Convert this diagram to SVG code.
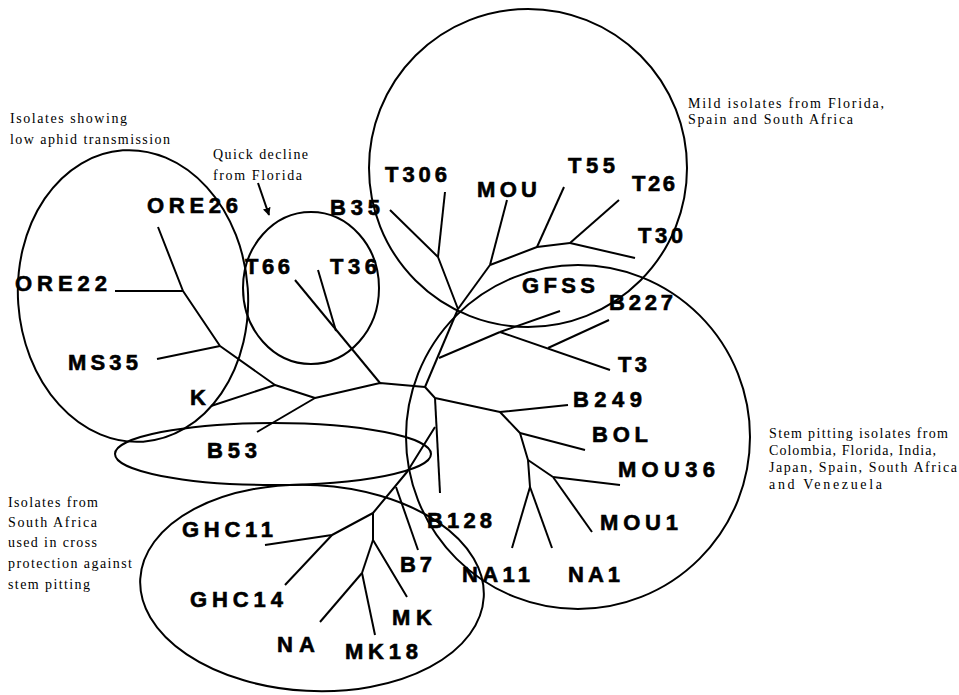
<svg xmlns="http://www.w3.org/2000/svg" width="959" height="695" viewBox="0 0 959 695">
<style>
.lbl{font-family:"Liberation Sans",Arial,sans-serif;font-weight:bold;font-size:22px;fill:#000;stroke:#000;stroke-width:0.6;}
.ann{font-family:"Liberation Serif","Times New Roman",serif;font-size:14px;fill:#000;}
.edge{stroke:#000;stroke-width:2;fill:none;stroke-linejoin:round;stroke-linecap:butt;}
.grp{stroke:#000;stroke-width:2;fill:none;}
</style>
<defs>
<pattern id="stipple" width="7" height="7" patternUnits="userSpaceOnUse">
<rect width="7" height="7" fill="#f8f8f8"/>
<circle cx="1.5" cy="2" r="0.6" fill="#a8a8a8"/>
<circle cx="5" cy="5.5" r="0.5" fill="#bcbcbc"/>
</pattern>
<marker id="arrow" viewBox="0 0 10 10" refX="9" refY="5" markerWidth="8" markerHeight="8" orient="auto" markerUnits="userSpaceOnUse">
<path d="M0,0 L10,5 L0,10 z" fill="#000"/>
</marker>
</defs>
<rect width="959" height="695" fill="#fff"/>

<g id="groups">
<ellipse id="grp-aphid" class="grp" cx="133" cy="296" rx="115" ry="146" transform="rotate(-4 133 296)" fill="url(#stipple)"/>
<ellipse id="grp-quick" class="grp" cx="311" cy="288" rx="68" ry="76"/>
<circle id="grp-mild" class="grp" cx="528" cy="168" r="159"/>
<circle id="grp-stem" class="grp" cx="578" cy="437" r="172"/>
<ellipse id="grp-b53" class="grp" cx="273" cy="454" rx="158" ry="31"/>
<ellipse id="grp-cross" class="grp" cx="312" cy="588" rx="172" ry="103" transform="rotate(3 312 588)"/>
</g>

<g id="connectors">
<polyline class="edge" points="158,227 183,291 220,346 275,385 315,398 380,383 425,387 435,398 500,412 568,405"/>
<line class="edge" x1="115" y1="291" x2="183" y2="291"/>
<line class="edge" x1="157" y1="359" x2="220" y2="346"/>
<line class="edge" x1="211" y1="406" x2="275" y2="385"/>
<line class="edge" x1="315" y1="398" x2="257" y2="432"/>
<line class="edge" x1="295" y1="280" x2="380" y2="383"/>
<line class="edge" x1="318" y1="270" x2="336" y2="331"/>
<line class="edge" x1="425" y1="387" x2="458" y2="309"/>
<line class="edge" x1="439" y1="358" x2="500" y2="332"/>
<line class="edge" x1="500" y1="332" x2="560" y2="311"/>
<line class="edge" x1="500" y1="332" x2="610" y2="370"/>
<line class="edge" x1="548" y1="348" x2="609" y2="320"/>
<polyline class="edge" points="458,309 438,257 390,210"/>
<line class="edge" x1="438" y1="257" x2="445" y2="192"/>
<line class="edge" x1="458" y1="309" x2="490" y2="265"/>
<line class="edge" x1="490" y1="265" x2="507" y2="200"/>
<polyline class="edge" points="490,265 537,247 570,243"/>
<line class="edge" x1="537" y1="247" x2="564" y2="187"/>
<line class="edge" x1="570" y1="243" x2="619" y2="200"/>
<line class="edge" x1="570" y1="243" x2="635" y2="258"/>
<polyline class="edge" points="500,412 520,433 528,460 530,487"/>
<line class="edge" x1="520" y1="433" x2="585" y2="450"/>
<line class="edge" x1="528" y1="460" x2="553" y2="477"/>
<line class="edge" x1="553" y1="477" x2="620" y2="485"/>
<line class="edge" x1="553" y1="477" x2="592" y2="532"/>
<line class="edge" x1="530" y1="487" x2="512" y2="548"/>
<line class="edge" x1="530" y1="487" x2="552" y2="548"/>
<line class="edge" x1="435" y1="398" x2="440" y2="493"/>
<polyline class="edge" points="435,427 407,472 373,513 332,535 265,545"/>
<line class="edge" x1="396" y1="487" x2="418" y2="550"/>
<line class="edge" x1="332" y1="535" x2="285" y2="585"/>
<polyline class="edge" points="373,513 373,540 407,597"/>
<line class="edge" x1="373" y1="540" x2="362" y2="573"/>
<line class="edge" x1="362" y1="573" x2="320" y2="622"/>
<line class="edge" x1="362" y1="573" x2="375" y2="635"/>
<line class="edge" x1="258" y1="183" x2="269" y2="215" marker-end="url(#arrow)"/>
</g>

<g id="nodes">
<g id="n-ORE26"><text class="lbl" x="147" y="213" textLength="91" lengthAdjust="spacing">ORE26</text></g>
<g id="n-ORE22"><text class="lbl" x="15" y="291" textLength="92" lengthAdjust="spacing">ORE22</text></g>
<g id="n-MS35"><text class="lbl" x="68" y="370" textLength="70" lengthAdjust="spacing">MS35</text></g>
<g id="n-K"><text class="lbl" x="190" y="405">K</text></g>
<g id="n-T66"><text class="lbl" x="245" y="274" textLength="45" lengthAdjust="spacing">T66</text></g>
<g id="n-T36"><text class="lbl" x="330" y="274" textLength="47" lengthAdjust="spacing">T36</text></g>
<g id="n-B35"><text class="lbl" x="330" y="215" textLength="50" lengthAdjust="spacing">B35</text></g>
<g id="n-T306"><text class="lbl" x="385" y="182" textLength="62" lengthAdjust="spacing">T306</text></g>
<g id="n-MOU"><text class="lbl" x="477" y="197" textLength="60" lengthAdjust="spacing">MOU</text></g>
<g id="n-T55"><text class="lbl" x="568" y="173" textLength="47" lengthAdjust="spacing">T55</text></g>
<g id="n-T26"><text class="lbl" x="632" y="191" textLength="43" lengthAdjust="spacing">T26</text></g>
<g id="n-T30"><text class="lbl" x="638" y="243" textLength="45" lengthAdjust="spacing">T30</text></g>
<g id="n-GFSS"><text class="lbl" x="522" y="293" textLength="73" lengthAdjust="spacing">GFSS</text></g>
<g id="n-B227"><text class="lbl" x="609" y="310" textLength="64" lengthAdjust="spacing">B227</text></g>
<g id="n-T3"><text class="lbl" x="618" y="372" textLength="29" lengthAdjust="spacing">T3</text></g>
<g id="n-B249"><text class="lbl" x="573" y="407" textLength="69" lengthAdjust="spacing">B249</text></g>
<g id="n-BOL"><text class="lbl" x="592" y="442" textLength="56" lengthAdjust="spacing">BOL</text></g>
<g id="n-MOU36"><text class="lbl" x="618" y="477" textLength="97" lengthAdjust="spacing">MOU36</text></g>
<g id="n-MOU1"><text class="lbl" x="600" y="530" textLength="78" lengthAdjust="spacing">MOU1</text></g>
<g id="n-NA11"><text class="lbl" x="462" y="582" textLength="68" lengthAdjust="spacing">NA11</text></g>
<g id="n-NA1"><text class="lbl" x="568" y="582" textLength="52" lengthAdjust="spacing">NA1</text></g>
<g id="n-B128"><text class="lbl" x="427" y="528" textLength="65" lengthAdjust="spacing">B128</text></g>
<g id="n-B7"><text class="lbl" x="400" y="572" textLength="32" lengthAdjust="spacing">B7</text></g>
<g id="n-GHC11"><text class="lbl" x="182" y="537" textLength="91" lengthAdjust="spacing">GHC11</text></g>
<g id="n-GHC14"><text class="lbl" x="190" y="607" textLength="93" lengthAdjust="spacing">GHC14</text></g>
<g id="n-MK"><text class="lbl" x="392" y="625" textLength="40" lengthAdjust="spacing">MK</text></g>
<g id="n-MK18"><text class="lbl" x="345" y="659" textLength="73" lengthAdjust="spacing">MK18</text></g>
<g id="n-NA"><text class="lbl" x="277" y="652" textLength="38" lengthAdjust="spacing">NA</text></g>
<g id="n-B53"><text class="lbl" x="207" y="458" textLength="50" lengthAdjust="spacing">B53</text></g>
</g>

<g id="annotations">
<text class="ann" x="10" y="123" textLength="117" lengthAdjust="spacing">Isolates showing</text>
<text class="ann" x="10" y="144" textLength="160" lengthAdjust="spacing">low aphid transmission</text>
<text class="ann" x="213" y="159" textLength="95" lengthAdjust="spacing">Quick decline</text>
<text class="ann" x="213" y="180" textLength="89" lengthAdjust="spacing">from Florida</text>
<text class="ann" x="688" y="108" textLength="196" lengthAdjust="spacing">Mild isolates from Florida,</text>
<text class="ann" x="688" y="124" textLength="165" lengthAdjust="spacing">Spain and South Africa</text>
<text class="ann" x="769" y="438" textLength="179" lengthAdjust="spacing">Stem pitting isolates from</text>
<text class="ann" x="769" y="455" textLength="167" lengthAdjust="spacing">Colombia, Florida, India,</text>
<text class="ann" x="769" y="472" textLength="188" lengthAdjust="spacing">Japan, Spain, South Africa</text>
<text class="ann" x="769" y="489" textLength="113" lengthAdjust="spacing">and Venezuela</text>
<text class="ann" x="8" y="507" textLength="90" lengthAdjust="spacing">Isolates from</text>
<text class="ann" x="8" y="527" textLength="89" lengthAdjust="spacing">South Africa</text>
<text class="ann" x="8" y="547" textLength="89" lengthAdjust="spacing">used in cross</text>
<text class="ann" x="8" y="568" textLength="124" lengthAdjust="spacing">protection against</text>
<text class="ann" x="8" y="589" textLength="82" lengthAdjust="spacing">stem pitting</text>
</g>
</svg>
